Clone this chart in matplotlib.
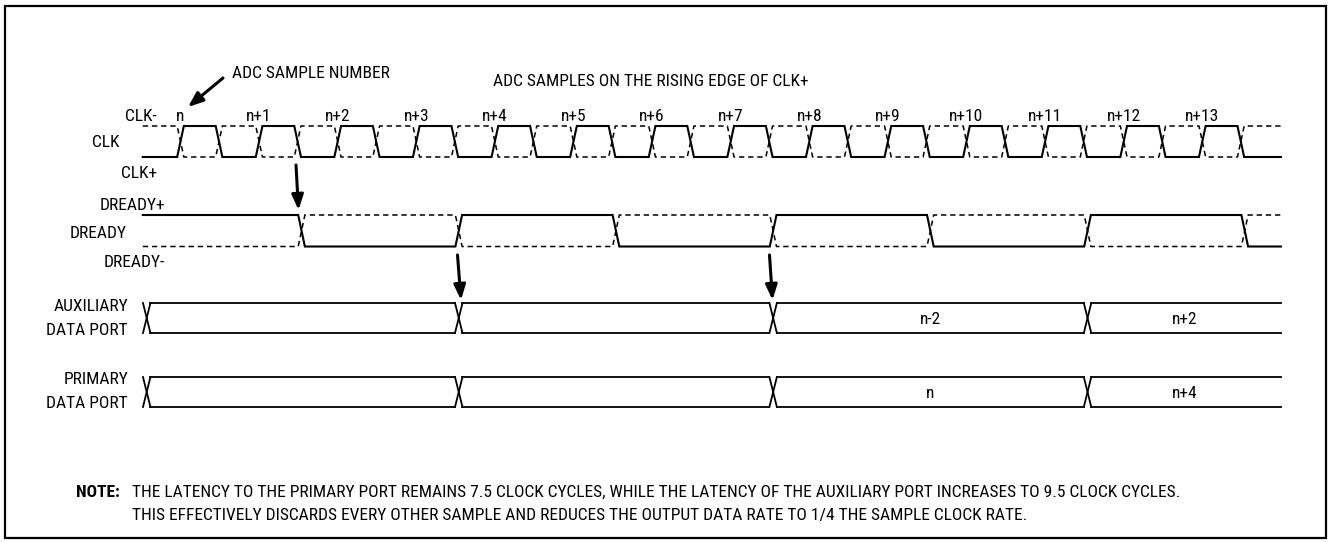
import matplotlib.pyplot as plt
from matplotlib.patches import Rectangle

# sample numbers, one per rising edge of CLK+
sample_labels = ['n', 'n+1', 'n+2', 'n+3', 'n+4', 'n+5', 'n+6', 'n+7',
                 'n+8', 'n+9', 'n+10', 'n+11', 'n+12', 'n+13']
clk_duty = 0.49

# DREADY toggle times (clock cycles), starts high
dready_edges = [1.54, 3.54, 5.54, 7.54, 9.54, 11.54, 13.54]

# data port word boundaries (clock cycles) and the word in each slot
port_edges = [-0.43, 3.54, 7.54, 11.54]
aux_words = ['', '', 'n-2', 'n+2']
primary_words = ['', '', 'n', 'n+4']

note_lines = [
    'THE LATENCY TO THE PRIMARY PORT REMAINS 7.5 CLOCK CYCLES, WHILE THE LATENCY OF THE AUXILIARY PORT INCREASES TO 9.5 CLOCK CYCLES.',
    'THIS EFFECTIVELY DISCARDS EVERY OTHER SAMPLE AND REDUCES THE OUTPUT DATA RATE TO 1/4 THE SAMPLE CLOCK RATE.',
]

# layout: x in clock cycles, y in pixels from the top
W, H = 1328, 542
x0_px, period_px = 180.5, 78.6
t_start, t_end = -0.48, 14.0
edge_w = 0.085
bus_w = 0.095

plt.rcParams['font.family'] = ['Roboto Condensed', 'Liberation Sans', 'DejaVu Sans']
fs = 12.5
note_fs = 12.5

fig = plt.figure(figsize=(W / 100, H / 100), dpi=100)
ax = fig.add_axes([0, 0, 1, 1])
ax.set_xlim(-x0_px / period_px, (W - x0_px) / period_px)
ax.set_ylim(H, 0)
ax.axis('off')


def px(x):
    # pixel column -> clock cycles
    return (x - x0_px) / period_px


def wave(edges, level, hi, lo):
    xs, ys = [t_start], [hi if level else lo]
    for e in edges:
        xs += [e - edge_w / 2, e + edge_w / 2]
        ys += [hi if level else lo, lo if level else hi]
        level = not level
    xs.append(t_end)
    ys.append(hi if level else lo)
    return xs, ys


def draw_pair(edges, solid_high, hi, lo):
    xs, ys = wave(edges, solid_high, hi, lo)
    ax.plot(xs, ys, color='black', lw=1.5, solid_joinstyle='miter')
    xs, ys = wave(edges, not solid_high, hi, lo)
    ax.plot(xs, ys, color='black', lw=1.1, linestyle=(0, (3.5, 2.5)))


def draw_bus(edges, words, hi, lo):
    mid = (hi + lo) / 2
    bounds = list(edges) + [t_end]
    for i, e in enumerate(edges):
        a, b = e - bus_w / 2, e + bus_w / 2
        ax.plot([a, b], [hi, lo], color='black', lw=1.3)
        ax.plot([a, b], [lo, hi], color='black', lw=1.3)
        nxt = bounds[i + 1] - (bus_w / 2 if i + 1 < len(edges) else 0)
        ax.plot([b, nxt], [hi, hi], color='black', lw=1.3)
        ax.plot([b, nxt], [lo, lo], color='black', lw=1.3)
        if words[i]:
            ax.text((e + bounds[i + 1]) / 2, mid, words[i], ha='center',
                    va='center_baseline', fontsize=fs)


# CLK
clk_edges = sorted([k for k in range(len(sample_labels))] +
                   [k + clk_duty for k in range(len(sample_labels))])
draw_pair(clk_edges, False, 126, 157)
for k, lab in enumerate(sample_labels):
    ax.text(k, 121, lab, ha='center', va='baseline', fontsize=fs)

# DREADY
draw_pair(dready_edges, True, 215, 246.5)

# data ports
draw_bus(port_edges, aux_words, 303, 333)
draw_bus(port_edges, primary_words, 377, 407)

# row labels
labels = [('CLK-', 157, 121), ('CLK', 120, 147), ('CLK+', 157, 178),
          ('DREADY+', 165, 210), ('DREADY', 127, 238), ('DREADY-', 165, 267),
          ('AUXILIARY', 128, 311), ('DATA PORT', 128, 335),
          ('PRIMARY', 128, 384), ('DATA PORT', 128, 408)]
for txt, xr, yb in labels:
    ax.text(px(xr), yb, txt, ha='right', va='baseline', fontsize=fs)

ax.text(px(232), 78, 'ADC SAMPLE NUMBER', ha='left', va='baseline', fontsize=fs)
ax.text(px(493), 86.5, 'ADC SAMPLES ON THE RISING EDGE OF CLK+', ha='left',
        va='baseline', fontsize=fs)

# arrows
arrow_kw = dict(arrowstyle='-|>,head_length=0.9,head_width=0.35', lw=2.2,
                color='black', shrinkA=0, shrinkB=0)
arrows = [((223, 78), (188, 107)),
          ((296, 165), (298.5, 210)),
          ((457.5, 255), (461, 300)),
          ((769.5, 255), (772.5, 300))]
for (xa, ya), (xb, yb) in arrows:
    ax.annotate('', xy=(px(xb), yb), xytext=(px(xa), ya), arrowprops=arrow_kw)

# note
ax.text(px(120), 497, 'NOTE:', ha='right', va='baseline', fontsize=note_fs,
        fontweight='bold')
for i, line in enumerate(note_lines):
    ax.text(px(132), 497 + 23 * i, line, ha='left', va='baseline',
            fontsize=note_fs)

# frame
ax.add_patch(Rectangle((5 / W, 1 - 538 / H), 1321 / W, 532 / H,
                       transform=ax.transAxes, fill=False, lw=1.6,
                       edgecolor='black'))

fig.savefig('out.png', dpi=100)
